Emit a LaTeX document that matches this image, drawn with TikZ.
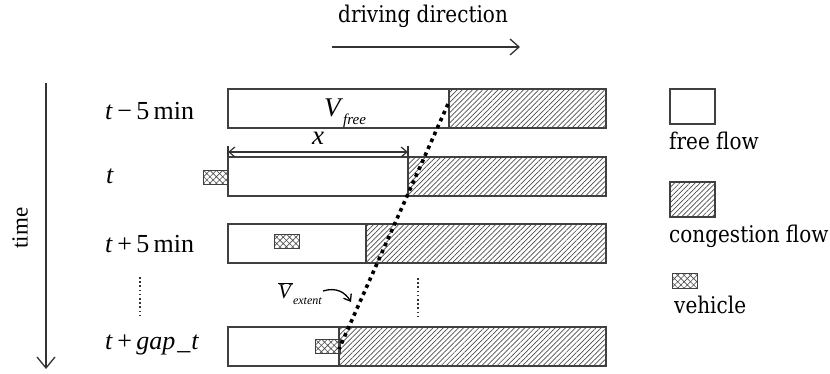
\documentclass[tikz,border=0pt]{standalone}
\usepackage{fontspec}
\setmainfont{Liberation Serif}
\newfontfamily\timesfont{Liberation Serif}
\newfontfamily\legendfont[FakeStretch=0.87]{DejaVu Serif}
\usetikzlibrary{arrows.meta,patterns.meta}
\begin{document}
\begin{tikzpicture}[x=1pt,y=-1pt,
  ink/.style={draw=black!75,line width=1.3pt},
  bar/.style={ink,inner sep=0pt,outer sep=0pt,anchor=north west,minimum height=39pt},
  freebar/.style={bar,fill=white},
  congbar/.style={bar,pattern={Lines[angle=45,distance=3.6pt,line width=0.7pt]},pattern color=black!70},
  car/.style={draw=black!75,line width=1pt,inner sep=0pt,outer sep=0pt,anchor=north west,
    minimum width=25pt,minimum height=14pt,
    pattern={Hatch[angle=45,distance=4.5pt,line width=0.6pt]},pattern color=black!70},
  rowlabel/.style={anchor=base west,inner sep=0pt,font=\timesfont\fontsize{26}{30}\selectfont},
  legendtext/.style={anchor=base west,inner sep=0pt,font=\legendfont\fontsize{23}{28}\selectfont},
  vdots/.style={draw=black!80,line width=1.6pt,dash pattern=on 1.6pt off 2.6pt},
  trend/.style={draw=black,line width=3.6pt,dash pattern=on 3.6pt off 4pt},
  barb/.style={-{Straight Barb[length=9pt,width=16pt]},draw=black!80,line width=1.3pt}
]
\useasboundingbox (0,0) rectangle (830,374);

% heading and driving direction
\node[legendtext] (dirtext) at (338,23) {driving direction};
\coordinate (dira) at (332,47);
\coordinate (dirb) at (520,47);
\draw[barb] (dira) -- (dirb);

% time axis
\coordinate (ta) at (46,83);
\coordinate (tb) at (46,369);
\draw[barb,-{Straight Barb[length=11pt,width=18pt]}] (ta) -- (tb);
\node[rotate=90,inner sep=0pt,font=\timesfont\fontsize{23}{28}\selectfont] (timetext) at (20,228) {time};

% row labels
\node[rowlabel] (l1) at (105,120) {\textit{t}\,−\,5\,min};
\node[rowlabel] (l2) at (106,184) {\textit{t}};
\node[rowlabel] (l3) at (105,252) {\textit{t}\,+\,5\,min};
\node[rowlabel] (l4) at (105,349) {\textit{t}\,+\,\textit{gap}\kern2pt\textit{\_\kern1pt t}};
\coordinate (ld1) at (140,277);
\coordinate (ld2) at (140,316);
\draw[vdots] (ld1) -- (ld2);

% road bars: free part and congested part
\node[freebar,minimum width=221pt] (f1) at (228,89) {};
\node[congbar,minimum width=157pt] (c1) at (449,89) {};
\node[freebar,minimum width=180pt] (f2) at (228,157) {};
\node[congbar,minimum width=198pt] (c2) at (408,157) {};
\node[freebar,minimum width=138pt] (f3) at (228,224) {};
\node[congbar,minimum width=240pt] (c3) at (366,224) {};
\node[freebar,minimum width=111pt] (f4) at (228,327) {};
\node[congbar,minimum width=267pt] (c4) at (339,327) {};

% vehicles
\node[car] (v2) at (203,171) {};
\node[car] (v3) at (274,235) {};
\node[car] (v4) at (315,339) {};

% free speed label
\node[inner sep=0pt,anchor=base,font=\timesfont\fontsize{27}{30}\selectfont] (vfree) at (345,117)
  {\textit{V}\raisebox{-8pt}{\fontsize{15}{15}\selectfont\textit{free}}};

% distance x
\coordinate (xa) at (228,152);
\coordinate (xb) at (408,152);
\draw[draw=black!80,line width=1.2pt] (228,146) -- (228,157) (408,146) -- (408,157);
\draw[draw=black!80,line width=1.2pt,{Straight Barb[length=6pt,width=10pt]}-{Straight Barb[length=6pt,width=10pt]}] (xa) -- (xb);
\node[inner sep=0pt,anchor=base,font=\timesfont\fontsize{27}{30}\selectfont] (xlabel) at (318,145) {\textit{x}};

% congestion front propagation
\coordinate (d1) at (448,104);
\coordinate (d4) at (339,349);
\draw[trend] (d1) -- (d4);

% middle dots
\coordinate (md1) at (418,278);
\coordinate (md2) at (418,318);
\draw[vdots] (md1) -- (md2);

% extent speed label
\node[inner sep=0pt,anchor=base west,font=\timesfont\fontsize{21}{24}\selectfont] (vext) at (278,298)
  {$\overline{\mbox{\textit{V}}}$\raisebox{-6pt}{\fontsize{12}{12}\selectfont\textit{extent}}};
\coordinate (ea) at (323,291);
\coordinate (eb) at (351,302);
\draw[black,line width=1.3pt,-{Straight Barb[length=6pt,width=9pt]}] (ea) .. controls (336,287) and (345,292) .. (eb);

% legend
\node[freebar,minimum width=45pt,minimum height=35pt] (lf) at (670,89) {};
\node[legendtext] (lft) at (669,150) {free flow};
\node[congbar,minimum width=45pt,minimum height=35pt] (lc) at (670,182) {};
\node[legendtext] (lct) at (669,243) {congestion flow};
\node[car,minimum height=15pt] (lv) at (672,273) {};
\node[legendtext] (lvt) at (674,313) {vehicle};
\end{tikzpicture}
\end{document}
